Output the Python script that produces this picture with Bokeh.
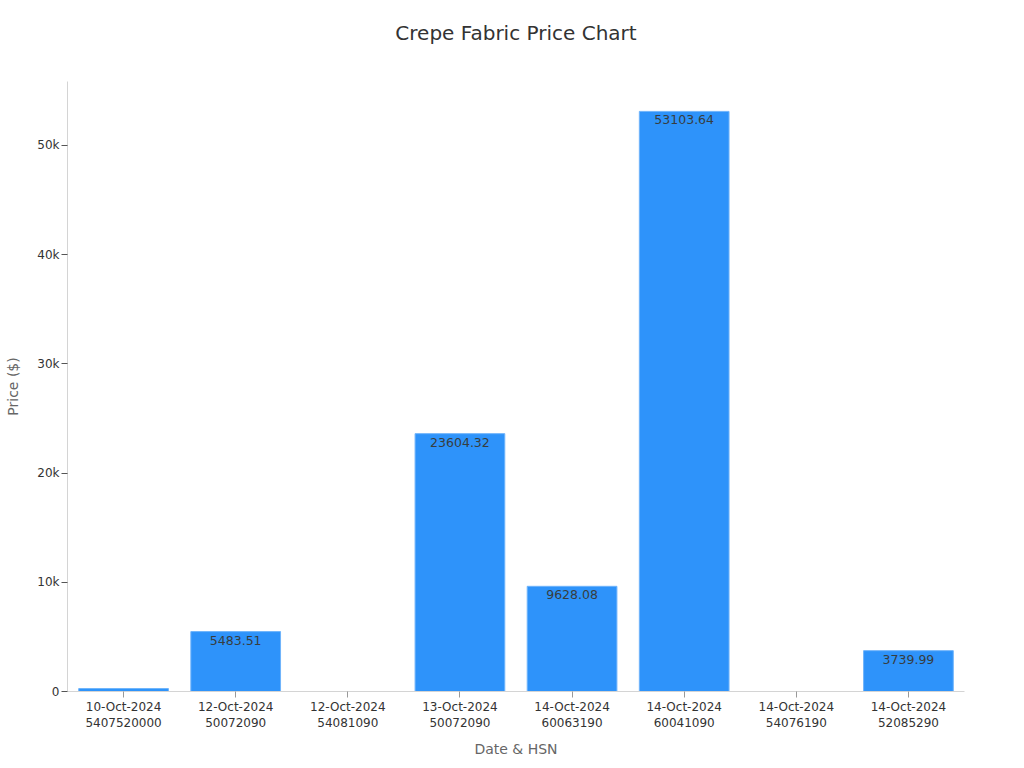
from bokeh.plotting import figure
from bokeh.models import ColumnDataSource, FixedTicker, NumeralTickFormatter, Range1d, Title
from bokeh.core.properties import value
from bokeh.embed import file_html
from bokeh.resources import INLINE

dates = ["10-Oct-2024", "12-Oct-2024", "12-Oct-2024", "13-Oct-2024",
         "14-Oct-2024", "14-Oct-2024", "14-Oct-2024", "14-Oct-2024"]
hsn = ["5407520000", "50072090", "54081090", "50072090",
       "60063190", "60041090", "54076190", "52085290"]
prices = [270.0, 5483.51, 0.0, 23604.32, 9628.08, 53103.64, 0.0, 3739.99]
y_ticks = [0, 10000, 20000, 30000, 40000, 50000]

cats = [f"{d}\n{h}" for d, h in zip(dates, hsn)]
labels = [f"{v:.2f}" if v >= 1000 else "" for v in prices]

src = ColumnDataSource(dict(cat=cats, price=prices, label=labels))

FONT = "DejaVu Sans"

p = figure(x_range=cats, y_range=Range1d(0, 55840), width=1000, height=760,
           output_backend="svg", toolbar_location=None,
           title="Crepe Fabric Price Chart",
           min_border_left=67, min_border_right=36,
           min_border_top=81, min_border_bottom=66)

p.vbar(x="cat", top="price", width=0.8, source=src,
       fill_color="#2E93FA", line_color="#6fb4fb", line_width=1)

p.text(x="cat", y="price", text="label", source=src,
       text_align="center", text_baseline="top", y_offset=4,
       text_font=value(FONT), text_font_size="12.5px", text_color="#373d3f")

# spacer panel that shifts the title vertically
p.add_layout(Title(text=" ", text_font_size="1px", standoff=31), "above")

p.title.align = "center"
p.title.text_font = FONT
p.title.text_font_size = "20px"
p.title.text_font_style = "normal"
p.title.text_color = "#333333"
p.title.standoff = 6

p.outline_line_color = None
p.xgrid.grid_line_color = None
p.ygrid.grid_line_color = None

p.yaxis.ticker = FixedTicker(ticks=y_ticks)
p.yaxis.formatter = NumeralTickFormatter(format="0a")
p.yaxis.axis_label = "Price ($)"
p.xaxis.axis_label = "Date & HSN"

for ax in (p.xaxis[0], p.yaxis[0]):
    ax.axis_line_color = "#d4d4d4"
    ax.major_label_text_font = FONT
    ax.major_label_text_font_size = "12px"
    ax.major_label_text_color = "#333333"
    ax.axis_label_text_font = FONT
    ax.axis_label_text_font_size = "14px"
    ax.axis_label_text_font_style = "normal"
    ax.axis_label_text_color = "#666666"
    ax.minor_tick_line_color = None
    ax.major_tick_in = 0
    ax.major_tick_out = 6

p.xaxis.major_tick_line_color = "#999999"
p.yaxis.major_tick_line_color = "#555555"
p.xaxis.major_label_standoff = 2
p.yaxis.major_label_standoff = 2
p.xaxis.axis_label_standoff = 8
p.yaxis.axis_label_standoff = 13

open("out.html", "w").write(file_html(p, INLINE))
